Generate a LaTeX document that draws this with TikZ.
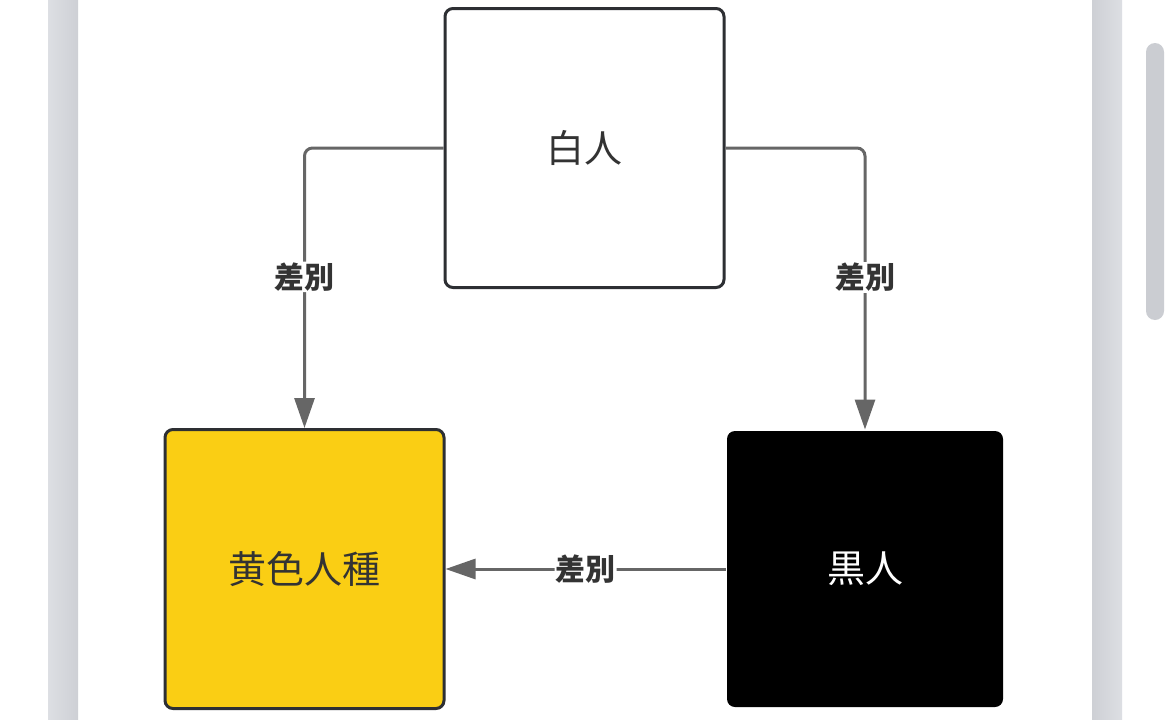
\documentclass[tikz,border=0pt]{standalone}
\usepackage{fontspec}
\newfontfamily\cjk{Noto Sans CJK JP}
\usetikzlibrary{arrows.meta}
\definecolor{stripgray}{RGB}{212,215,220}
\definecolor{stripdark}{RGB}{206,208,213}
\definecolor{thumbgray}{RGB}{203,205,210}
\definecolor{edgegray}{RGB}{102,102,102}
\definecolor{boxline}{RGB}{45,47,51}
\definecolor{yellowfill}{RGB}{250,206,20}
\definecolor{textgray}{RGB}{51,51,51}

\begin{document}
\begin{tikzpicture}[x=1pt, y=-1pt,
		box/.style={rounded corners=8pt, line width=3pt, minimum width=279pt, minimum height=279pt, inner sep=0pt, font=\cjk\fontsize{38}{42}\selectfont, text=textgray},
		arr/.style={edgegray, line width=3pt, rounded corners=8pt, -{Triangle[length=30pt, width=20pt]}},
		lbl/.style={fill=white, text=textgray, inner sep=1pt, font=\cjk\bfseries\fontsize{30}{33}\selectfont}]
		\useasboundingbox (0,0) rectangle (1170,720);
		\fill[white] (0,0) rectangle (1170,720);
		\shade[left color=stripgray!80!white, right color=stripdark] (48,0) rectangle (78,720);
		\shade[left color=stripdark, right color=stripgray!80!white] (1092,0) rectangle (1122,720);
		\fill[thumbgray, rounded corners=9pt] (1146,43) rectangle (1164,320); % scrollbar
%
		\node[box, draw=boxline, fill=white] (white) at (584.5,148) {白人};
		\node[box, draw=boxline, fill=yellowfill] (yellow) at (304.5,569) {黄色人種};
		\node[box, fill=black, text=white, minimum width=276pt, minimum height=276pt] (black) at (865,569) {黒人};
%
		\draw [arr] (white.west) -| (yellow.north) node[lbl, pos=.73] {差別};
		\draw [arr] (white.east) -| (black.north) node[lbl, pos=.73] {差別};
		\draw [arr] (black.west) -- (yellow.east) node[lbl, pos=.5] {差別};
\end{tikzpicture}
\end{document}
